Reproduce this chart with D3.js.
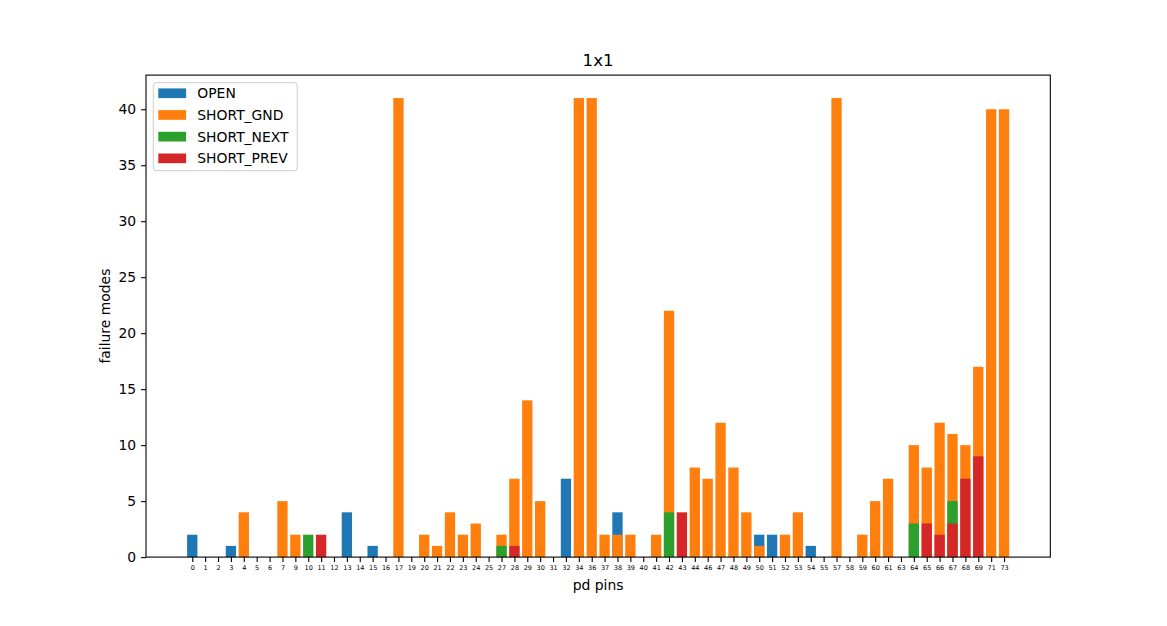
<!DOCTYPE html>
<html>
<head>
<meta charset="utf-8">
<script src="https://cdn.jsdelivr.net/npm/d3@7/dist/d3.min.js"></script>
<style>
  body { margin: 0; background: #fff; }
  text { font-family: "DejaVu Sans", sans-serif; fill: #000; }
</style>
</head>
<body>
<div id="chart"></div>
<script>
var width = 1167;
var height = 626;

// pd pins, in plot order
var pins = ["0","1","2","3","4","5","6","7","9","10","11","12","13","14","15","16","17","19","20","21",
            "22","23","24","25","27","28","29","30","31","32","34","36","37","38","39","40","41","42","43","44",
            "46","47","48","49","50","51","52","53","54","55","57","58","59","60","61","63","64","65","66","67",
            "68","69","71","73"];

var openModes = [2,0,0,1,0,0,0,0,0,0,0,0,4,0,1,0,0,0,0,0,
                 0,0,0,0,0,0,0,0,0,7,0,0,0,4,0,0,0,0,0,0,
                 0,0,0,0,2,2,0,0,1,0,0,0,0,0,0,0,0,0,0,0,
                 0,0,0,0];
var shortGnd =  [0,0,0,0,4,0,0,5,2,0,0,0,0,0,0,0,41,0,2,1,
                 4,2,3,0,2,7,14,5,0,0,41,41,2,2,2,0,2,22,0,8,
                 7,12,8,4,1,0,2,4,0,0,41,0,2,5,7,0,10,8,12,11,
                 10,17,40,40];
var shortNext = [0,0,0,0,0,0,0,0,0,2,0,0,0,0,0,0,0,0,0,0,
                 0,0,0,0,1,0,0,0,0,0,0,0,0,0,0,0,0,4,0,0,
                 0,0,0,0,0,0,0,0,0,0,0,0,0,0,0,0,3,0,0,5,
                 0,0,0,0];
var shortPrev = [0,0,0,0,0,0,0,0,0,0,2,0,0,0,0,0,0,0,0,0,
                 0,0,0,0,0,1,0,0,0,0,0,0,0,0,0,0,0,0,4,0,
                 0,0,0,0,0,0,0,0,0,0,0,0,0,0,0,0,0,3,2,3,
                 7,9,0,0];

var seriesNames = ["OPEN", "SHORT_GND", "SHORT_NEXT", "SHORT_PREV"];
var seriesValues = [openModes, shortGnd, shortNext, shortPrev];
var colors = ["#1f77b4", "#ff7f0e", "#2ca02c", "#d62728"];
var yTicks = [0, 5, 10, 15, 20, 25, 30, 35, 40];

var plotLeft = 146, plotRight = 1050.3, plotTop = 75.1, plotBottom = 557.1;
var barW = 0.8;
var n = pins.length;
var pad = 0.05 * ((n - 1) + barW);

var x = d3.scaleLinear()
    .domain([-barW / 2 - pad, n - 1 + barW / 2 + pad])
    .range([plotLeft, plotRight]);
var ymax = d3.max(seriesValues, function(s) { return d3.max(s); }) * 1.05;
var y = d3.scaleLinear().domain([0, ymax]).range([plotBottom, plotTop]);

var svg = d3.select("#chart").append("svg")
    .attr("width", width)
    .attr("height", height);

// bars, drawn one series over another
seriesValues.forEach(function(vals, si) {
    svg.append("g").selectAll("rect")
        .data(vals)
        .enter()
        .append("rect")
        .attr("x", function(d, i) { return x(i - barW / 2); })
        .attr("width", function() { return x(barW) - x(0); })
        .attr("y", function(d) { return y(d); })
        .attr("height", function(d) { return y(0) - y(d); })
        .attr("fill", colors[si]);
});

// axes
var xAxis = d3.axisBottom(x)
    .tickValues(d3.range(n))
    .tickFormat(function(d) { return pins[d]; })
    .tickSize(4.9)
    .tickPadding(3);
var gx = svg.append("g")
    .attr("transform", "translate(0," + plotBottom + ")")
    .call(xAxis);
gx.select(".domain").remove();
gx.selectAll("line").attr("stroke-width", 1.1);
gx.selectAll("text").style("font-size", "6.5px");

var yAxis = d3.axisLeft(y)
    .tickValues(yTicks)
    .tickSize(4.9)
    .tickPadding(4.9);
var gy = svg.append("g")
    .attr("transform", "translate(" + plotLeft + ",0)")
    .call(yAxis);
gy.select(".domain").remove();
gy.selectAll("line").attr("stroke-width", 1.1);
gy.selectAll("text").style("font-size", "13.9px");

svg.append("rect")
    .attr("x", plotLeft)
    .attr("y", plotTop)
    .attr("width", plotRight - plotLeft)
    .attr("height", plotBottom - plotTop)
    .attr("fill", "none")
    .attr("stroke", "#000")
    .attr("stroke-width", 1.1);

// labels
svg.append("text")
    .attr("x", (plotLeft + plotRight) / 2)
    .attr("y", 66)
    .attr("text-anchor", "middle")
    .style("font-size", "16.7px")
    .text("1x1");

svg.append("text")
    .attr("x", (plotLeft + plotRight) / 2)
    .attr("y", 590)
    .attr("text-anchor", "middle")
    .style("font-size", "13.9px")
    .text("pd pins");

svg.append("text")
    .attr("transform", "translate(110," + (plotTop + plotBottom) / 2 + ") rotate(-90)")
    .attr("text-anchor", "middle")
    .style("font-size", "13.9px")
    .text("failure modes");

// legend
var legend = svg.append("g").attr("transform", "translate(153.3,82.7)");
legend.append("rect")
    .attr("width", 144)
    .attr("height", 88)
    .attr("rx", 3)
    .attr("fill", "#fff")
    .attr("fill-opacity", 0.8)
    .attr("stroke", "#cccccc")
    .attr("stroke-width", 1);

var items = legend.selectAll("g.item")
    .data(seriesNames)
    .enter()
    .append("g")
    .attr("class", "item")
    .attr("transform", function(d, i) { return "translate(0," + (10.6 + i * 21.7) + ")"; });
items.append("rect")
    .attr("x", 5)
    .attr("y", -4.9)
    .attr("width", 27.8)
    .attr("height", 9.7)
    .attr("fill", function(d, i) { return colors[i]; });
items.append("text")
    .attr("x", 44)
    .attr("y", 5)
    .style("font-size", "13.9px")
    .text(function(d) { return d; });
</script>
</body>
</html>
